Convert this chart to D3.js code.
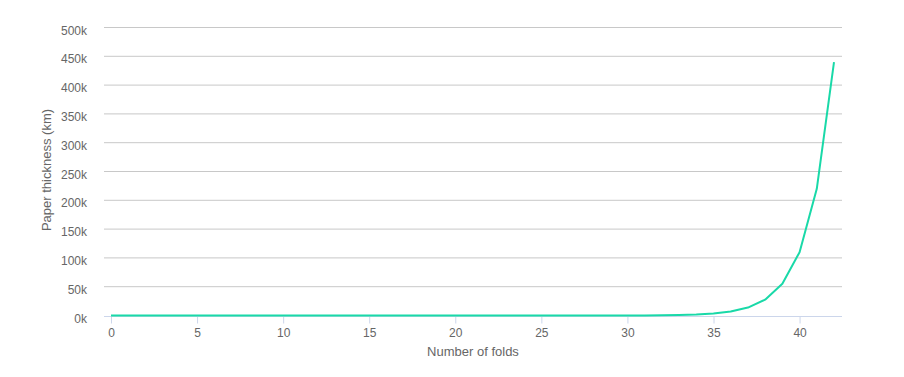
<!DOCTYPE html>
<html>
<head>
<meta charset="utf-8">
<script src="https://cdn.jsdelivr.net/npm/d3@7"></script>
<style>
  body { margin: 0; background: #fff; }
  text { font-family: "Liberation Sans", Arial, sans-serif; }
</style>
</head>
<body>
<svg width="904" height="377"></svg>
<script>
// number of folds
const folds = d3.range(0, 43);
// paper thickness in km (0.1 mm sheet)
const thickness = [
  0.0000001, 0.0000002, 0.0000004, 0.0000008, 0.0000016, 0.0000032, 0.0000064,
  0.0000128, 0.0000256, 0.0000512, 0.0001024, 0.0002048, 0.0004096, 0.0008192,
  0.0016384, 0.0032768, 0.0065536, 0.0131072, 0.0262144, 0.0524288, 0.1048576,
  0.2097152, 0.4194304, 0.8388608, 1.6777216, 3.3554432, 6.7108864, 13.4217728,
  26.8435456, 53.6870912, 107.3741824, 214.7483648, 429.4967296, 858.9934592,
  1717.99, 3435.97, 6871.95, 13743.9, 27487.8, 54975.6, 109951.2, 219902.3, 439804.7
];
const xTicks = [0, 5, 10, 15, 20, 25, 30, 35, 40];
const yTicks = [0, 50000, 100000, 150000, 200000, 250000, 300000, 350000, 400000, 450000, 500000];

let svg = d3.select("svg");
const plotLeft = 104, plotRight = 842;

let xScale = d3.scaleLinear().domain([0, 42]).range([111, 834]);
let yScale = d3.scaleLinear().domain([0, 500000]).range([315.5, 27.5]);

// grid
svg.append("g")
  .selectAll("line")
  .data(yTicks.slice(1))
  .join("line")
  .attr("x1", plotLeft).attr("x2", plotRight)
  .attr("y1", d => yScale(d)).attr("y2", d => yScale(d))
  .attr("stroke", "#c8c8c8")
  .attr("stroke-width", 1);

// y labels
svg.append("g")
  .selectAll("text")
  .data(yTicks)
  .join("text")
  .attr("x", 87)
  .attr("y", d => yScale(d) + 7)
  .attr("text-anchor", "end")
  .attr("font-size", 12)
  .attr("fill", "#666")
  .text(d => (d / 1000) + "k");

// x axis
let xAxis = d3.axisBottom(xScale).tickValues(xTicks).tickSize(7).tickPadding(5);
let gx = svg.append("g")
  .attr("transform", "translate(0,316.5)")
  .call(xAxis);
gx.select(".domain").remove();
gx.append("line")
  .attr("x1", plotLeft).attr("x2", plotRight)
  .attr("y1", 0).attr("y2", 0)
  .attr("stroke", "#ccd6eb");
gx.selectAll(".tick line").attr("stroke", "#ccd6eb");
gx.selectAll(".tick text")
  .attr("fill", "#666")
  .attr("font-size", 12)
  .attr("font-family", "Liberation Sans, Arial, sans-serif");

// axis titles
svg.append("text")
  .attr("x", 473).attr("y", 356)
  .attr("text-anchor", "middle")
  .attr("font-size", 13)
  .attr("fill", "#666")
  .text("Number of folds");

svg.append("text")
  .attr("transform", "translate(51,170) rotate(-90)")
  .attr("text-anchor", "middle")
  .attr("font-size", 13)
  .attr("fill", "#666")
  .text("Paper thickness (km)");

// line
let line = d3.line()
  .x((d, i) => xScale(folds[i]))
  .y(d => yScale(d));

svg.append("path")
  .datum(thickness)
  .attr("d", line)
  .attr("fill", "none")
  .attr("stroke", "#19d9a8")
  .attr("stroke-width", 2)
  .attr("stroke-linejoin", "round");
</script>
</body>
</html>
